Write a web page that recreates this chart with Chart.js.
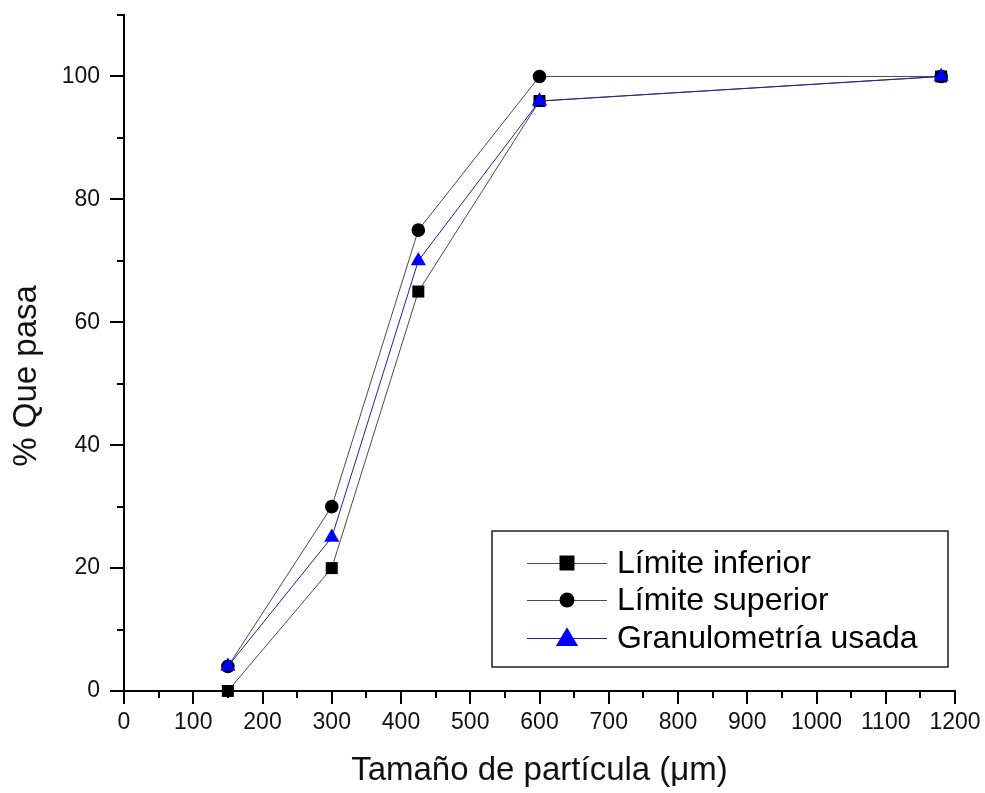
<!DOCTYPE html>
<html>
<head>
<meta charset="utf-8">
<script src="https://cdn.jsdelivr.net/npm/chart.js@4.4.1/dist/chart.umd.min.js"></script>
<style>
  html, body { margin: 0; padding: 0; background: #fff; }
  canvas { display: block; }
</style>
</head>
<body>
<canvas id="granChart" width="985" height="793"></canvas>
<script>
// particle sizes (µm) and % passing for each curve
const SIZES = [150, 300, 425, 600, 1180];
const LIM_INF = [0, 20, 65, 96, 100];
const LIM_SUP = [4, 30, 75, 100, 100];
const GRANULO = [4, 25, 70, 96, 100];

const SERIES_NAMES = ['Límite inferior', 'Límite superior', 'Granulometría usada'];

const X_TICKS = [0, 100, 200, 300, 400, 500, 600, 700, 800, 900, 1000, 1100, 1200];
const Y_TICKS = [0, 20, 40, 60, 80, 100];

const FONT = "'Liberation Sans', Arial, sans-serif";

function toPoints(ys) {
  return SIZES.map((x, i) => ({ x: x, y: ys[i] }));
}

// draws a marker shape (used by the legend box)
function drawMarker(ctx, style, x, y, s) {
  ctx.beginPath();
  if (style === 'rect') {
    ctx.rect(x - s / 2, y - s / 2, s, s);
  } else if (style === 'circle') {
    ctx.arc(x, y, s / 2, 0, Math.PI * 2);
  } else {
    ctx.moveTo(x, y - s * 0.6);
    ctx.lineTo(x + s * 0.62, y + s * 0.45);
    ctx.lineTo(x - s * 0.62, y + s * 0.45);
    ctx.closePath();
  }
  ctx.fill();
}

// no automatic label padding, the plot area is placed by layout.padding
function fixPadding(scale) {
  scale.paddingTop = 0;
  scale.paddingBottom = 0;
  scale.paddingLeft = 0;
  scale.paddingRight = 0;
}

// outward major/minor tick marks like the original plot
const tickMarks = {
  id: 'tickMarks',
  afterDraw(chart) {
    const ctx = chart.ctx;
    const xs = chart.scales.x, ys = chart.scales.y;
    ctx.save();
    ctx.strokeStyle = '#000';
    ctx.lineWidth = 2;
    ctx.beginPath();
    for (let v = xs.min; v <= xs.max; v += 50) {
      const px = Math.round(xs.getPixelForValue(v));
      const len = v % 100 === 0 ? 13 : 7;
      ctx.moveTo(px, ys.bottom);
      ctx.lineTo(px, ys.bottom + len);
    }
    for (let v = ys.min; v <= ys.max; v += 10) {
      const py = Math.round(ys.getPixelForValue(v));
      const len = v % 20 === 0 ? 14 : 7;
      ctx.moveTo(xs.left, py);
      ctx.lineTo(xs.left - len, py);
    }
    ctx.stroke();
    ctx.restore();
  }
};

// boxed legend in the lower right of the plot
const boxLegend = {
  id: 'boxLegend',
  afterDraw(chart) {
    const ctx = chart.ctx;
    const box = { x: 492, y: 531, w: 456, h: 136 };
    ctx.save();
    ctx.strokeStyle = '#222';
    ctx.lineWidth = 1.5;
    ctx.strokeRect(box.x, box.y, box.w, box.h);
    const rows = [563, 600, 638];
    chart.data.datasets.forEach((ds, i) => {
      const y = rows[i];
      ctx.strokeStyle = ds.borderColor;
      ctx.lineWidth = 1;
      ctx.beginPath();
      ctx.moveTo(527, y + 0.5);
      ctx.lineTo(607, y + 0.5);
      ctx.stroke();
      ctx.fillStyle = ds.pointBackgroundColor;
      drawMarker(ctx, ds.pointStyle, 567, y, ds.pointStyle === 'triangle' ? 18 : 15);
      ctx.fillStyle = '#000';
      ctx.font = '32px ' + FONT;
      ctx.textBaseline = 'middle';
      ctx.textAlign = 'left';
      ctx.fillText(ds.label, 617, y + 1);
    });
    ctx.restore();
  }
};

new Chart(document.getElementById('granChart'), {
  type: 'scatter',
  data: {
    datasets: [
      {
        label: SERIES_NAMES[0],
        data: toPoints(LIM_INF),
        showLine: true,
        borderColor: '#4a4a4a',
        borderWidth: 1,
        pointStyle: 'rect',
        pointRadius: 8.5,
        pointBackgroundColor: '#000',
        pointBorderColor: '#000',
        pointBorderWidth: 0,
        clip: false,
        order: 3
      },
      {
        label: SERIES_NAMES[1],
        data: toPoints(LIM_SUP),
        showLine: true,
        borderColor: '#4a4a4a',
        borderWidth: 1,
        pointStyle: 'circle',
        pointRadius: 6.8,
        pointBackgroundColor: '#000',
        pointBorderColor: '#000',
        pointBorderWidth: 0,
        clip: false,
        order: 2
      },
      {
        label: SERIES_NAMES[2],
        data: toPoints(GRANULO),
        showLine: true,
        borderColor: '#2020a8',
        borderWidth: 1,
        pointStyle: 'triangle',
        pointRadius: 8.8,
        pointBackgroundColor: '#0000ff',
        pointBorderColor: '#0000ff',
        pointBorderWidth: 0,
        clip: false,
        order: 1
      }
    ]
  },
  options: {
    responsive: false,
    animation: false,
    layout: { padding: { top: 15, right: 30, left: 0, bottom: 0 } },
    plugins: {
      legend: { display: false },
      tooltip: { enabled: false }
    },
    scales: {
      x: {
        type: 'linear',
        min: 0,
        max: 1200,
        afterBuildTicks: (scale) => { scale.ticks = X_TICKS.map(v => ({ value: v })); },
        afterFit: (scale) => { scale.height = 102; fixPadding(scale); },
        grid: { display: false, drawTicks: false },
        border: { display: true, color: '#000', width: 2 },
        ticks: {
          padding: 18,
          color: '#111',
          font: { family: FONT, size: 23 },
          maxRotation: 0,
          autoSkip: false,
          callback: (v) => String(v)
        },
        title: {
          display: true,
          text: 'Tamaño de partícula (μm)',
          color: '#111',
          font: { family: FONT, size: 33 },
          padding: { top: 0, bottom: 2 }
        }
      },
      y: {
        type: 'linear',
        min: 0,
        max: 110,
        afterBuildTicks: (scale) => { scale.ticks = Y_TICKS.map(v => ({ value: v })); },
        afterFit: (scale) => { scale.width = 124; fixPadding(scale); },
        grid: { display: false, drawTicks: false },
        border: { display: true, color: '#000', width: 2 },
        ticks: {
          padding: 24,
          color: '#111',
          font: { family: FONT, size: 23 },
          autoSkip: false,
          callback: (v) => String(v)
        },
        title: {
          display: true,
          // trailing spaces push the title down to where the original sits
          text: '% Que pasa     ',
          color: '#111',
          font: { family: FONT, size: 33 },
          padding: { top: 7, bottom: 0 }
        }
      }
    }
  },
  plugins: [tickMarks, boxLegend]
});
</script>
</body>
</html>
